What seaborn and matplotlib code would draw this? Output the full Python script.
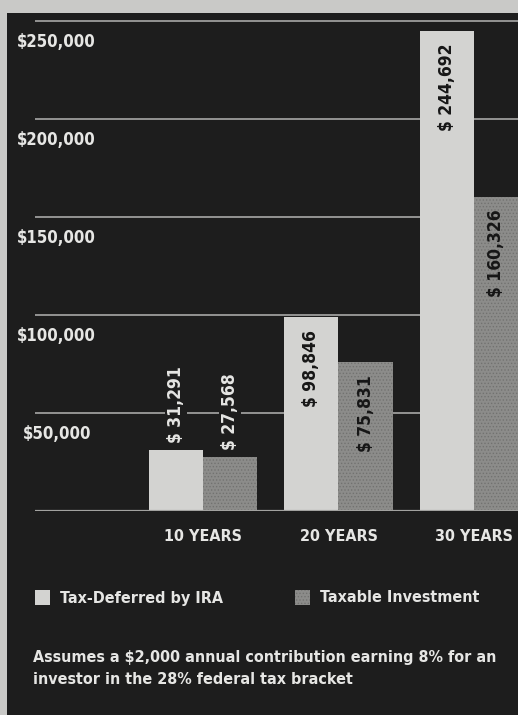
import matplotlib
matplotlib.use("Agg")
import matplotlib.pyplot as plt
import matplotlib.patches as mpatches
import seaborn as sns
import pandas as pd

periods = ['10 YEARS', '20 YEARS', '30 YEARS']
series = ['Tax-Deferred by IRA', 'Taxable Investment']
ira_values = [31291, 98846, 244692]
taxable_values = [27568, 75831, 160326]
y_ticks = [50000, 100000, 150000, 200000, 250000]
note = 'Assumes a $2,000 annual contribution earning 8% for an\ninvestor in the 28% federal tax bracket'

bg = '#1d1d1d'
light = '#d3d3d1'
mid = '#8c8c8a'
txt = '#e6e6e4'

sns.set_theme(style='dark')
plt.rcParams['font.family'] = ['DejaVu Sans']
plt.rcParams['font.stretch'] = 'condensed'
plt.rcParams['font.weight'] = 'bold'
plt.rcParams['hatch.color'] = '#727270'
plt.rcParams['hatch.linewidth'] = 0.6

df = pd.DataFrame({
    'period': periods * 2,
    'plan': [series[0]] * 3 + [series[1]] * 3,
    'value': ira_values + taxable_values,
})

fig = plt.figure(figsize=(5.18, 7.15), dpi=100)
fig.patch.set_facecolor(bg)
# light paper edges around the printed graphic
fig.patches.append(mpatches.Rectangle((0, 0), 7 / 518, 1, transform=fig.transFigure,
                                      facecolor='#c9c9c7', edgecolor='none'))
fig.patches.append(mpatches.Rectangle((0, 1 - 13 / 715), 1, 13 / 715, transform=fig.transFigure,
                                      facecolor='#c9c9c7', edgecolor='none'))

ax = fig.add_axes([35 / 518, (715 - 511) / 715, 1 - 35 / 518, 500 / 715])
ax.set_facecolor(bg)

sns.barplot(data=df, x='period', y='value', hue='plan', hue_order=series,
            palette=[light, mid], width=0.8, saturation=1, legend=False,
            edgecolor='none', linewidth=0, ax=ax, zorder=3)

n = len(periods)
for i, bar in enumerate(ax.patches):
    if i >= n:
        bar.set_hatch('.....')
        bar.set_edgecolor('#727270')
        bar.set_linewidth(0)

ax.set_xlim(-1.24, 2.325)
ax.set_ylim(0, 255000)
for s in ax.spines.values():
    s.set_visible(False)

for v in y_ticks:
    ax.axhline(v, color='#b4b4b2', lw=1.1, zorder=1)
    ax.text(0.045, v - 6000, f'${v:,}', transform=ax.get_yaxis_transform(),
            ha='center', va='top', color=txt, fontsize=12, fontweight='bold')
ax.axhline(0, color='#a2a2a0', lw=1.6, zorder=4)

ax.set_yticks([])
ax.set_xlabel('')
ax.set_ylabel('')
ax.tick_params(axis='x', length=0, pad=13, labelsize=11.5, labelcolor=txt)
for lab in ax.get_xticklabels():
    lab.set_fontweight('bold')

xmax = ax.get_xlim()[1]
for bar, val in zip(ax.patches, ira_values + taxable_values):
    cx = bar.get_x() + bar.get_width() / 2
    cx = min(cx, xmax - 0.16)
    top = bar.get_height()
    label = f'$ {val:,}'
    if top < 40000:
        ax.text(cx, top + 3500, label, rotation=90, ha='center', va='bottom',
                color=txt, fontsize=12.5, fontweight='bold', zorder=5,
                bbox=dict(facecolor=bg, edgecolor='none', pad=1.5))
    else:
        ax.text(cx, top - 6500, label, rotation=90, ha='center', va='top',
                color='#161616', fontsize=12.5, fontweight='bold', zorder=5)

# legend
fig.patches.append(mpatches.Rectangle((35 / 518, 1 - 605 / 715), 15 / 518, 15 / 715,
                                      transform=fig.transFigure, facecolor=light,
                                      edgecolor='none'))
fig.patches.append(mpatches.Rectangle((295 / 518, 1 - 605 / 715), 15 / 518, 15 / 715,
                                      transform=fig.transFigure, facecolor=mid,
                                      hatch='.....', edgecolor='#727270', linewidth=0))
fig.text(60 / 518, 1 - 598 / 715, series[0], ha='left', va='center',
         color=txt, fontsize=11.5, fontweight='bold')
fig.text(320 / 518, 1 - 598 / 715, series[1], ha='left', va='center',
         color=txt, fontsize=11.5, fontweight='bold')

fig.text(33 / 518, 1 - 650 / 715, note, ha='left', va='top', color=txt,
         fontsize=11.5, fontweight='bold', linespacing=1.55)

fig.savefig('out.png', dpi=100, facecolor=fig.get_facecolor())
